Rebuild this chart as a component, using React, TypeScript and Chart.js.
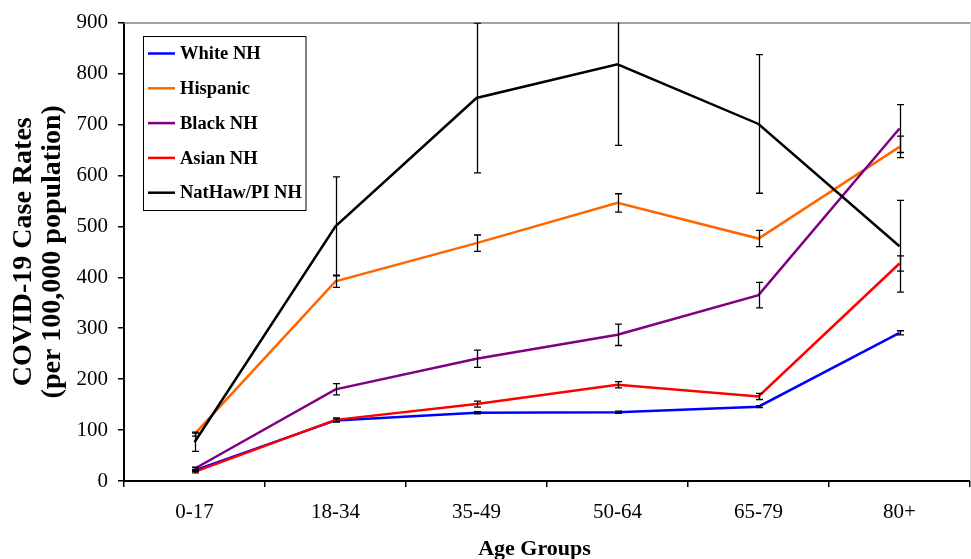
import React, { useEffect, useRef } from "react";
import { Chart, registerables } from "chart.js";

Chart.register(...registerables);

const ageGroups = ["0-17", "18-34", "35-49", "50-64", "65-79", "80+"];

const seriesNames = ["White NH", "Hispanic", "Black NH", "Asian NH", "NatHaw/PI NH"];
const seriesColors = ["#0000FF", "#FF6600", "#800080", "#FF0000", "#000000"];

const whiteNH = [21, 119, 134, 135, 146, 291];
const hispanic = [92, 392, 467, 546, 476, 656];
const blackNH = [24, 180, 240, 287, 365, 692];
const asianNH = [18, 120, 151, 189, 166, 427];
const natHawPI = [76, 500, 752, 818, 701, 461];

const whiteErr = [2, 3, 2, 2, 2, 4];
const hispanicErr = [4, 12, 16, 18, 16, 21];
const blackErr = [3, 11, 17, 21, 25, 47];
const asianErr = [2, 4, 6, 6, 6, 15];
const natHawErr = [18, 97, 147, 159, 136, 90];

const yTitle = ["COVID-19 Case Rates", "(per 100,000 population)"];
const xTitle = "Age Groups";

const FONT = '"Liberation Serif", "Times New Roman", serif';

const seriesValues = [whiteNH, hispanic, blackNH, asianNH, natHawPI];
const seriesErrors = [whiteErr, hispanicErr, blackErr, asianErr, natHawErr];

const framePlugin = {
  id: "frame",
  beforeDatasetsDraw(chart: any) {
    const { ctx, chartArea } = chart;
    ctx.save();
    ctx.strokeStyle = "#808080";
    ctx.lineWidth = 1.5;
    ctx.beginPath();
    ctx.moveTo(chartArea.left, chartArea.top + 0.5);
    ctx.lineTo(chart.width, chartArea.top + 0.5);
    ctx.stroke();
    ctx.strokeStyle = "#d8d8d8";
    ctx.lineWidth = 1;
    ctx.beginPath();
    ctx.moveTo(chartArea.right + 0.5, chartArea.top);
    ctx.lineTo(chartArea.right + 0.5, chartArea.bottom);
    ctx.stroke();
    ctx.restore();
  },
};

const errorBarPlugin = {
  id: "errorBars",
  afterDatasetsDraw(chart: any) {
    const { ctx, chartArea } = chart;
    const yScale = chart.scales.y;
    ctx.save();
    ctx.beginPath();
    ctx.rect(chartArea.left, chartArea.top, chartArea.right - chartArea.left, chartArea.bottom - chartArea.top);
    ctx.clip();
    ctx.strokeStyle = "#000";
    ctx.lineWidth = 1.3;
    chart.data.datasets.forEach((ds: any, i: number) => {
      const meta = chart.getDatasetMeta(i);
      const errs = seriesErrors[i];
      meta.data.forEach((pt: any, j: number) => {
        const v = ds.data[j];
        const e = errs[j];
        const x = Math.round(pt.x) + 0.5;
        const yHi = yScale.getPixelForValue(v + e);
        const yLo = yScale.getPixelForValue(v - e);
        ctx.beginPath();
        ctx.moveTo(x, yHi);
        ctx.lineTo(x, yLo);
        ctx.moveTo(x - 3.5, yHi);
        ctx.lineTo(x + 3.5, yHi);
        ctx.moveTo(x - 3.5, yLo);
        ctx.lineTo(x + 3.5, yLo);
        ctx.stroke();
      });
    });
    ctx.restore();
  },
};

const legendPlugin = {
  id: "boxLegend",
  afterDraw(chart: any) {
    const { ctx } = chart;
    ctx.save();
    ctx.strokeStyle = "#000";
    ctx.lineWidth = 1;
    ctx.strokeRect(143.5, 36.5, 162.5, 174);
    ctx.font = `bold 18.5px ${FONT}`;
    ctx.textBaseline = "middle";
    ctx.textAlign = "left";
    chart.data.datasets.forEach((ds: any, i: number) => {
      const y = 53.5 + i * 34.8;
      ctx.strokeStyle = ds.borderColor;
      ctx.lineWidth = 2.5;
      ctx.beginPath();
      ctx.moveTo(148, y);
      ctx.lineTo(175, y);
      ctx.stroke();
      ctx.fillStyle = "#000";
      ctx.fillText(ds.label, 180, y + 1);
    });
    // x axis title
    ctx.font = `bold 22px ${FONT}`;
    ctx.textAlign = "center";
    ctx.textBaseline = "alphabetic";
    ctx.fillStyle = "#000";
    ctx.fillText(xTitle, 534.5, 555);
    ctx.restore();
  },
};

export default function App() {
  const canvasRef = useRef<HTMLCanvasElement | null>(null);

  useEffect(() => {
    if (!canvasRef.current) return;
    const chart = new Chart(canvasRef.current, {
      type: "line",
      data: {
        labels: ageGroups,
        datasets: seriesNames.map((name, i) => ({
          label: name,
          data: seriesValues[i],
          borderColor: seriesColors[i],
          backgroundColor: seriesColors[i],
          borderWidth: 2.5,
          pointRadius: 0,
          pointHoverRadius: 0,
          tension: 0,
          fill: false,
          order: seriesNames.length - 1 - i,
        })),
      },
      options: {
        animation: false,
        responsive: false,
        events: [],
        layout: { padding: { left: 0, top: 20, right: 1, bottom: 0 } },
        plugins: {
          legend: { display: false },
          tooltip: { enabled: false },
          title: { display: false },
        },
        scales: {
          x: {
            type: "category",
            offset: true,
            grid: {
              display: true,
              offset: true,
              drawOnChartArea: false,
              drawTicks: true,
              tickLength: 6,
              color: "#000",
              lineWidth: 1.5,
            },
            border: { display: true, color: "#000", width: 2 },
            ticks: {
              color: "#000",
              font: { family: FONT, size: 21 },
              padding: 13,
              maxRotation: 0,
            },
            afterFit(scale: any) {
              scale.height = 78;
            },
          },
          y: {
            min: 0,
            max: 900,
            grid: {
              display: true,
              drawOnChartArea: false,
              drawTicks: true,
              tickLength: 6,
              color: "#000",
              lineWidth: 1.5,
            },
            border: { display: true, color: "#000", width: 2 },
            ticks: {
              stepSize: 100,
              color: "#000",
              font: { family: FONT, size: 21 },
              padding: 10,
            },
            title: {
              display: true,
              text: yTitle,
              color: "#000",
              font: { family: FONT, size: 28, weight: "bold", lineHeight: 29 / 28 },
              padding: { top: 9.5, bottom: 0 },
            },
            afterFit(scale: any) {
              scale.width = 124;
            },
          },
        },
      },
      plugins: [framePlugin, errorBarPlugin, legendPlugin],
    } as any);
    return () => chart.destroy();
  }, []);

  return (
    <div style={{ position: "absolute", left: 0, top: 0, width: 971, height: 559, background: "#fff" }}>
      <canvas ref={canvasRef} width={971} height={559} style={{ display: "block", width: 971, height: 559 }} />
    </div>
  );
}
